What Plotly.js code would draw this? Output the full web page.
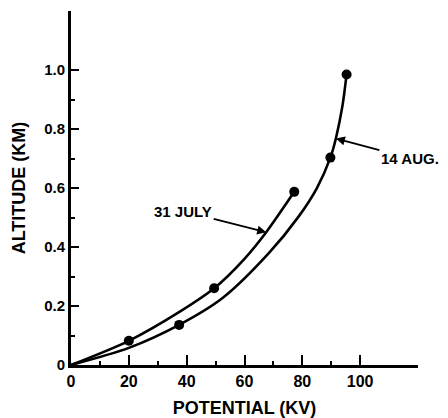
<!DOCTYPE html>
<html>
<head>
<meta charset="utf-8">
<script src="https://cdn.plot.ly/plotly-3.0.1.min.js"></script>
<style>html,body{margin:0;padding:0;background:#fff;}#chart{width:448px;height:418px;}</style>
</head>
<body>
<div id="chart"></div>
<script>
// Measured points (dots)
const julyPtsX = [20, 49.5, 77.2];
const julyPtsY = [0.082, 0.26, 0.587];
const augPtsX = [37.4, 89.7, 95.3];
const augPtsY = [0.136, 0.703, 0.985];

// Drawn fitted curves
const julyCurveX = [0, 20, 37.5, 49.5, 60, 67.5, 77.2];
const julyCurveY = [0, 0.082, 0.18, 0.26, 0.36, 0.45, 0.587];
const augCurveX = [0, 20, 37.4, 52.3, 68.4, 78.7, 85, 89.7, 91.6, 93.9, 95.3];
const augCurveY = [0, 0.058, 0.136, 0.226, 0.379, 0.503, 0.599, 0.703, 0.768, 0.88, 0.985];

const xTickVals = [0, 20, 40, 60, 80, 100];
const xTickText = ['0', '20', '40', '60', '80', '100'];
const xMinorVals = [10, 30, 50, 70, 90];
const yTickVals = [0, 0.2, 0.4, 0.6, 0.8, 1.0];
const yTickText = ['0', '0.2', '0.4', '0.6', '0.8', '1.0'];
const yMinorVals = [0.1, 0.3, 0.5, 0.7, 0.9];

const seriesNames = ['31 JULY', '14 AUG.'];

const fontFam = '"Liberation Sans", Arial, sans-serif';
const lineStyle = {color: '#000', width: 2.6, shape: 'spline', smoothing: 0.8};
const markerStyle = {color: '#000', size: 10, symbol: 'circle'};

const traces = [
  {x: julyCurveX, y: julyCurveY, mode: 'lines', line: lineStyle, name: seriesNames[0], hoverinfo: 'skip', cliponaxis: false},
  {x: augCurveX, y: augCurveY, mode: 'lines', line: lineStyle, name: seriesNames[1], hoverinfo: 'skip', cliponaxis: false},
  {x: julyPtsX, y: julyPtsY, mode: 'markers', marker: markerStyle, name: seriesNames[0] + ' data', cliponaxis: false},
  {x: augPtsX, y: augPtsY, mode: 'markers', marker: markerStyle, name: seriesNames[1] + ' data', cliponaxis: false}
];

const layout = {
  width: 448, height: 418,
  margin: {l: 71, r: 30, t: 11, b: 53},
  paper_bgcolor: '#fff', plot_bgcolor: '#fff',
  showlegend: false,
  font: {family: fontFam, color: '#000', weight: 700},
  xaxis: {
    range: [0, 120], showgrid: false, zeroline: false,
    showline: true, linecolor: '#000', linewidth: 3,
    tickmode: 'array', tickvals: xTickVals, ticktext: xTickText,
    ticks: 'inside', ticklen: 10, tickwidth: 2, tickcolor: '#000',
    minor: {tickmode: 'array', tickvals: xMinorVals, ticks: 'inside', ticklen: 4, tickwidth: 2, tickcolor: '#000'},
    tickfont: {family: fontFam, size: 16, color: '#000', weight: 700},
    title: {text: 'POTENTIAL (KV)', font: {family: fontFam, size: 18, color: '#000', weight: 700}, standoff: 14},
    automargin: false
  },
  yaxis: {
    range: [0, 1.2], showgrid: false, zeroline: false,
    showline: true, linecolor: '#000', linewidth: 3,
    tickmode: 'array', tickvals: yTickVals, ticktext: yTickText,
    ticks: 'inside', ticklen: 8, tickwidth: 2, tickcolor: '#000',
    minor: {tickmode: 'array', tickvals: yMinorVals, ticks: 'inside', ticklen: 4, tickwidth: 2, tickcolor: '#000'},
    tickfont: {family: fontFam, size: 15, color: '#000', weight: 700},
    title: {text: 'ALTITUDE (KM)', font: {family: fontFam, size: 18, color: '#000', weight: 700}, standoff: 14},
    automargin: false
  },
  annotations: [
    {x: julyCurveX[5], y: julyCurveY[5], text: seriesNames[0], showarrow: true,
     ax: -83, ay: -21, arrowhead: 2, arrowsize: 1, arrowwidth: 1.8, arrowcolor: '#000',
     font: {family: fontFam, size: 15, color: '#000', weight: 700}},
    {x: augCurveX[8], y: augCurveY[8], text: seriesNames[1], showarrow: true,
     ax: 74, ay: 20, arrowhead: 2, arrowsize: 1, arrowwidth: 1.8, arrowcolor: '#000',
     font: {family: fontFam, size: 15, color: '#000', weight: 700}}
  ]
};

Plotly.newPlot('chart', traces, layout, {displayModeBar: false, staticPlot: true});
</script>
</body>
</html>
